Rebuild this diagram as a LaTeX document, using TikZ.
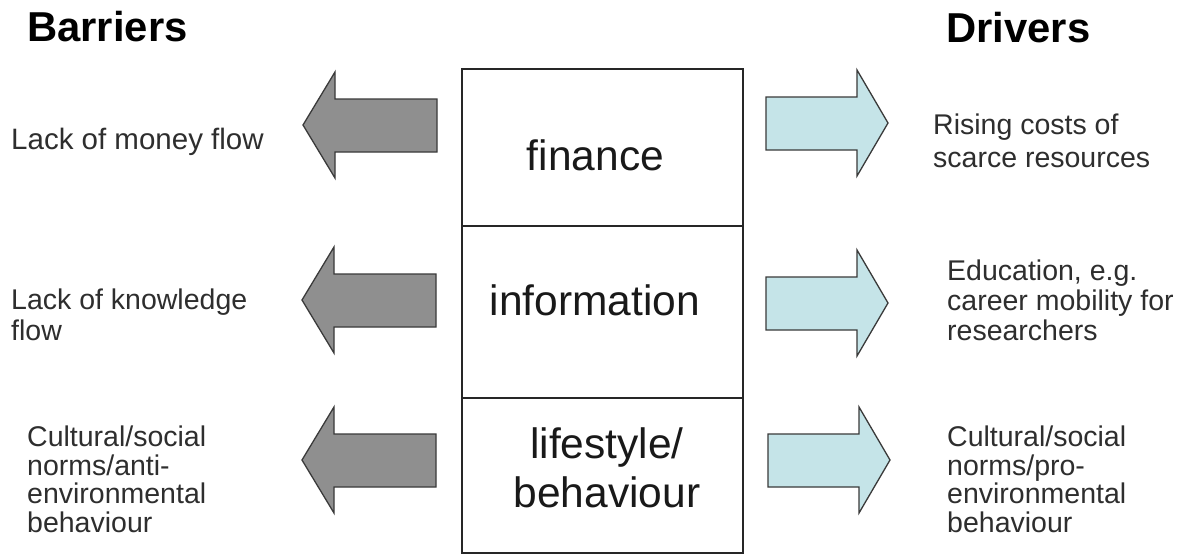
\documentclass[tikz,border=0pt]{standalone}
\usepackage{fontspec}
\setmainfont{Liberation Sans}
\definecolor{barfill}{HTML}{8F8F8F}
\definecolor{drvfill}{HTML}{C5E4E8}
\definecolor{edge}{HTML}{3A3A3A}
\definecolor{lbltext}{HTML}{2E2E2E}
\tikzset{
  lbl/.style={font=\fontsize{28.5}{#1}\selectfont, text=lbltext, align=left, inner sep=0pt, anchor=base west},
  head/.style={font=\fontsize{41.8}{45}\selectfont\bfseries, text=black, inner sep=0pt, anchor=base west},
  mid/.style={font=\fontsize{42.5}{49}\selectfont, text=black!90, align=center, inner sep=0pt, anchor=base},
  cell/.style={draw=black!85, line width=1.4pt},
  arrowshape/.style={draw=edge, line width=1.3pt, line join=miter},
  larrow/.pic={\path[arrowshape, fill=barfill] (0,0) -- (32,-53) -- (32,-26) -- (134,-26) -- (134,27) -- (32,27) -- (32,53) -- cycle;},
  rarrow/.pic={\path[arrowshape, fill=drvfill] (0,0) -- (-31,-53) -- (-31,-26) -- (-122,-26) -- (-122,27) -- (-31,27) -- (-31,53) -- cycle;}
}
\begin{document}
\begin{tikzpicture}[x=1pt,y=-1pt]
\useasboundingbox[fill=white] (0,0) rectangle (1188,557);
% central table
\draw[cell] (462,69) rectangle (743,226);
\draw[cell] (462,226) rectangle (743,398);
\draw[cell] (462,398) rectangle (743,553);
\node[mid] (fin) at (595.5,170) {finance};
\node[mid] (inf) at (595,315) {information};
\node[mid] (life) at (607,507) {lifestyle/\\behaviour};
% headings
\node[head] (bar) at (27,41) {Barriers};
\node[head] (drv) at (946,42) {Drivers};
% arrows
\pic at (303,125) {larrow};
\pic at (302,300) {larrow};
\pic at (302,460) {larrow};
\pic at (888,123) {rarrow};
\pic at (888,303) {rarrow};
\pic at (890,460) {rarrow};
% barrier labels
\node[lbl=30, font=\fontsize{29.5}{30}\selectfont] (b1) at (11,149) {Lack of money flow};
\node[lbl=31] (b2) at (11,340) {Lack of knowledge\\flow};
\node[lbl=28.5] (b3) at (27,532) {Cultural/social\\norms/anti-\\environmental\\behaviour};
% driver labels
\node[lbl=33] (d1) at (933,167) {Rising costs of\\scarce resources};
\node[lbl=30] (d2) at (947,340) {Education, e.g.\\career mobility for\\researchers};
\node[lbl=28.5] (d3) at (947,532) {Cultural/social\\norms/pro-\\environmental\\behaviour};
\end{tikzpicture}
\end{document}
